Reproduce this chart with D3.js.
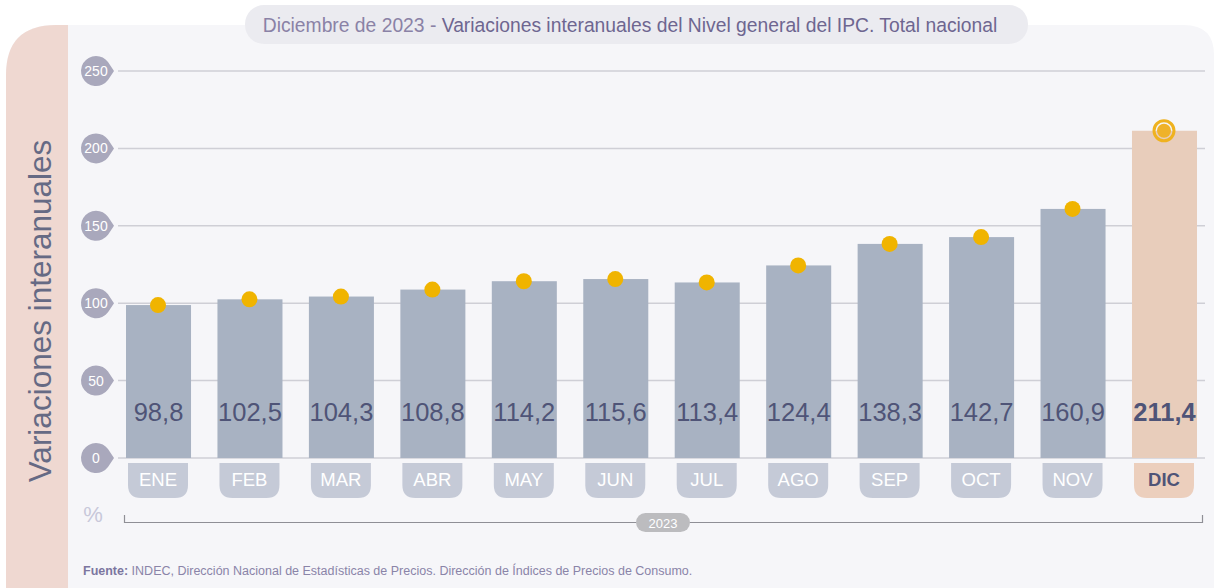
<!DOCTYPE html>
<html>
  <head>
    <meta charset="utf-8" />
    <title>IPC interanual</title>
    <style>
      body { margin: 0; background: #ffffff; }
      text { font-family: "Liberation Sans", Arial, sans-serif; }
    </style>
  </head>
  <body>
  <div id="container"></div>
  <script src="https://cdn.jsdelivr.net/npm/d3@7"></script>
  <script type="text/javascript">

    // chart data
    var months = ['ENE','FEB','MAR','ABR','MAY','JUN','JUL','AGO','SEP','OCT','NOV','DIC'];
    var values = [98.8, 102.5, 104.3, 108.8, 114.2, 115.6, 113.4, 124.4, 138.3, 142.7, 160.9, 211.4];
    var yTicks = [0, 50, 100, 150, 200, 250];
    var yearLabel = '2023';

    var width = 1216, height = 588;

    var svg = d3.select('#container').append('svg')
      .attr('width', width).attr('height', height);

    // card background
    svg.append('path')
      .attr('d', 'M6,75 Q6,25 56,25 L1184,25 Q1214,25 1214,55 L1214,600 L6,600 Z')
      .attr('fill', '#f6f6f9');
    svg.append('path')
      .attr('d', 'M6,75 Q6,25 56,25 L68,25 L68,600 L6,600 Z')
      .attr('fill', '#efd8d1');

    // title pill
    svg.append('rect').attr('x', 245).attr('y', 5).attr('width', 783).attr('height', 39)
      .attr('rx', 19).attr('fill', '#ebebf0');
    var title = svg.append('text').attr('x', 630).attr('y', 32)
      .attr('text-anchor', 'middle').attr('font-size', 19.3);
    title.append('tspan').attr('fill', '#8a82a6').text('Diciembre de 2023 - ');
    title.append('tspan').attr('fill', '#6e6690').text('Variaciones interanuales del Nivel general del IPC. Total nacional');

    // y axis title
    svg.append('text')
      .attr('transform', 'translate(51,311) rotate(-90)')
      .attr('text-anchor', 'middle').attr('font-size', 31.5)
      .attr('fill', '#666a84').text('Variaciones interanuales');

    var x = d3.scaleBand().domain(months).range([126, 1197]).paddingInner(0.289).paddingOuter(0);
    var y = d3.scaleLinear().domain([0, 250]).range([458, 71]);

    // gridlines
    svg.append('g').selectAll('line').data(yTicks).enter().append('line')
      .attr('x1', 118).attr('x2', 1205)
      .attr('y1', function(d){ return y(d); }).attr('y2', function(d){ return y(d); })
      .attr('stroke', '#cfcfd6').attr('stroke-width', 1.5);

    // y tick badges
    var badge = svg.append('g').selectAll('g').data(yTicks).enter().append('g')
      .attr('transform', function(d){ return 'translate(96,' + y(d) + ')'; });
    badge.append('path')
      .attr('d', 'M0,-15 A15,15 0 1,0 12,9 L18,0 L12,-9 A15,15 0 0,0 0,-15 Z')
      .attr('fill', '#a9a8bc');
    badge.append('text').attr('text-anchor', 'middle').attr('dy', '0.35em')
      .attr('font-size', 14).attr('fill', '#ffffff')
      .text(function(d){ return d; });

    // bars
    svg.append('g').selectAll('rect').data(values).enter().append('rect')
      .attr('x', function(d, i){ return x(months[i]); })
      .attr('width', x.bandwidth())
      .attr('y', function(d){ return y(d); })
      .attr('height', function(d){ return y(0) - y(d); })
      .attr('fill', function(d, i){ return i === 11 ? '#e8cdbb' : '#a8b2c2'; });

    // value labels
    svg.append('g').selectAll('text').data(values).enter().append('text')
      .attr('x', function(d, i){ return x(months[i]) + x.bandwidth() / 2; })
      .attr('y', 421).attr('text-anchor', 'middle')
      .attr('font-size', 25.5)
      .attr('font-weight', function(d, i){ return i === 11 ? 'bold' : 'normal'; })
      .attr('fill', '#4f5477')
      .text(function(d){ return d.toFixed(1).replace('.', ','); });

    // month pills
    var pw = 60, ph = 35, pr = 13;
    var pill = svg.append('g').selectAll('g').data(months).enter().append('g')
      .attr('transform', function(d){ return 'translate(' + (x(d) + x.bandwidth() / 2 - 0.5) + ',463)'; });
    pill.append('path')
      .attr('d', 'M' + (-pw/2) + ',0 L' + (pw/2) + ',0 L' + (pw/2) + ',' + (ph - pr) +
        ' Q' + (pw/2) + ',' + ph + ' ' + (pw/2 - pr) + ',' + ph +
        ' L' + (-pw/2 + pr) + ',' + ph + ' Q' + (-pw/2) + ',' + ph + ' ' + (-pw/2) + ',' + (ph - pr) + ' Z')
      .attr('fill', function(d, i){ return i === 11 ? '#eccfbd' : '#c5cad7'; });
    pill.append('text').attr('y', 23).attr('text-anchor', 'middle')
      .attr('font-size', 18.5)
      .attr('font-weight', function(d, i){ return i === 11 ? 'bold' : 'normal'; })
      .attr('fill', function(d, i){ return i === 11 ? '#4f5477' : '#ffffff'; })
      .text(function(d){ return d; });

    // dots
    var dots = svg.append('g').selectAll('g').data(values).enter().append('g')
      .attr('transform', function(d, i){ return 'translate(' + (x(months[i]) + x.bandwidth() / 2 - 0.5) + ',' + y(d) + ')'; });
    dots.filter(function(d, i){ return i === 11; }).append('circle')
      .attr('r', 10).attr('fill', 'none').attr('stroke', '#efb21f').attr('stroke-width', 3);
    dots.append('circle').attr('r', function(d, i){ return i === 11 ? 7 : 8; })
      .attr('fill', function(d, i){ return i === 11 ? '#efb22a' : '#f0b400'; });

    // % and year bracket
    svg.append('text').attr('x', 93).attr('y', 522).attr('text-anchor', 'middle')
      .attr('font-size', 22).attr('fill', '#c8c8da').text('%');
    svg.append('path')
      .attr('d', 'M124.5,515 L124.5,522.5 L1202.5,522.5 L1202.5,515')
      .attr('fill', 'none').attr('stroke', '#8f8f96').attr('stroke-width', 1.2);
    svg.append('rect').attr('x', 636).attr('y', 513).attr('width', 54).attr('height', 19)
      .attr('rx', 9.5).attr('fill', '#bcbcbf');
    svg.append('text').attr('x', 663).attr('y', 527.5).attr('text-anchor', 'middle')
      .attr('font-size', 13).attr('fill', '#ffffff').text(yearLabel);

    // source
    var src = svg.append('text').attr('x', 83).attr('y', 575).attr('font-size', 12.5).attr('fill', '#8a84a8');
    src.append('tspan').attr('font-weight', 'bold').attr('fill', '#7c76a0').text('Fuente:');
    src.append('tspan').text(' INDEC, Dirección Nacional de Estadísticas de Precios. Dirección de Índices de Precios de Consumo.');

  </script>
  </body>
</html>
